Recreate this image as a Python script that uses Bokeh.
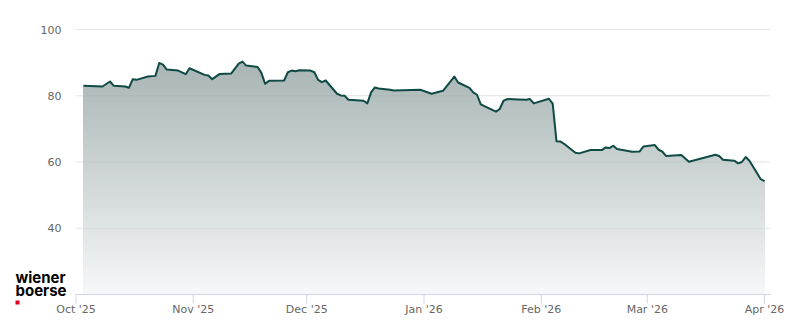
import numpy as np
import pandas as pd
from bokeh.plotting import figure
from bokeh.models import Range1d
from bokeh.core.properties import value
from bokeh.embed import file_html
from bokeh.resources import INLINE

# ---------------- data ----------------
dates = ["2025-10-03", "2025-10-08", "2025-10-10", "2025-10-11", "2025-10-14",
         "2025-10-15", "2025-10-16", "2025-10-17", "2025-10-20", "2025-10-22",
         "2025-10-23", "2025-10-24", "2025-10-25", "2025-10-28", "2025-10-30",
         "2025-10-31", "2025-11-04", "2025-11-05", "2025-11-06", "2025-11-08",
         "2025-11-11", "2025-11-13", "2025-11-14", "2025-11-15", "2025-11-18",
         "2025-11-19", "2025-11-20", "2025-11-21", "2025-11-25", "2025-11-26",
         "2025-11-27", "2025-11-28", "2025-11-29", "2025-12-02", "2025-12-03",
         "2025-12-04", "2025-12-05", "2025-12-06", "2025-12-09", "2025-12-10",
         "2025-12-11", "2025-12-12", "2025-12-16", "2025-12-17", "2025-12-18",
         "2025-12-19", "2025-12-20", "2025-12-23", "2025-12-24", "2025-12-31",
         "2026-01-03", "2026-01-06", "2026-01-09", "2026-01-10", "2026-01-13",
         "2026-01-14", "2026-01-15", "2026-01-16", "2026-01-20", "2026-01-21",
         "2026-01-22", "2026-01-23", "2026-01-26", "2026-01-28", "2026-01-29",
         "2026-01-30", "2026-02-03", "2026-02-04", "2026-02-05", "2026-02-06",
         "2026-02-07", "2026-02-10", "2026-02-11", "2026-02-14", "2026-02-17",
         "2026-02-18", "2026-02-19", "2026-02-20", "2026-02-21", "2026-02-25",
         "2026-02-27", "2026-02-28", "2026-03-03", "2026-03-04", "2026-03-05",
         "2026-03-06", "2026-03-10", "2026-03-12", "2026-03-19", "2026-03-20",
         "2026-03-21", "2026-03-24", "2026-03-25", "2026-03-26", "2026-03-27",
         "2026-03-28", "2026-03-31", "2026-04-01"]

prices = [83.0, 82.8, 84.3, 83.0, 82.8,
          82.4, 85.0, 84.8, 85.8, 86.0,
          89.9, 89.4, 87.9, 87.6, 86.5,
          88.3, 86.3, 86.1, 85.0, 86.6,
          86.7, 89.7, 90.3, 89.1, 88.7,
          86.9, 83.6, 84.5, 84.6, 87.1,
          87.6, 87.4, 87.7, 87.6, 87.1,
          84.8, 84.1, 84.6, 80.6, 80.1,
          80.0, 78.8, 78.5, 77.7, 81.0,
          82.5, 82.2, 81.8, 81.6, 81.8,
          80.6, 81.5, 85.8, 84.0, 82.4,
          81.0, 80.3, 77.4, 75.2, 76.0,
          78.5, 79.0, 78.9, 78.8, 79.0,
          77.7, 79.1, 77.6, 66.3, 66.2,
          65.5, 62.8, 62.6, 63.6, 63.6,
          64.4, 64.2, 64.9, 63.9, 63.1,
          63.2, 64.7, 65.1, 63.7, 63.1,
          61.8, 62.1, 60.1, 62.2, 61.8,
          60.7, 60.4, 59.6, 60.0, 61.5,
          60.4, 54.8, 54.2]

month_ticks = ["2025-10-01", "2025-11-01", "2025-12-01", "2026-01-01",
               "2026-02-01", "2026-03-01", "2026-04-01"]
month_labels = ["Oct '25", "Nov '25", "Dec '25", "Jan '26",
                "Feb '26", "Mar '26", "Apr '26"]
y_ticks = [40, 60, 80, 100]
y_labels = ["40", "60", "80", "100"]
logo_lines = ["wiener", "boerse"]

# ---------------- geometry of the plotting area ----------------
W, H = 800, 324
PL, PR, PT, PB = 75, 30, 29, 30          # plot-area borders in px
Y0, Y1 = 20.0, 100.0                      # value axis range

DAY = 86400000.0
t0 = pd.Timestamp("2025-10-01").value / 1e6
x_start = t0 - 0.13 * DAY
x_end = x_start + 183.7 * DAY
mspp = (x_end - x_start) / (W - PL - PR)   # ms per pixel
upp = (Y1 - Y0) / (H - PT - PB)            # value units per pixel

x = pd.to_datetime(dates)
xms = np.asarray((x - pd.Timestamp("1970-01-01")) // pd.Timedelta(milliseconds=1),
                 dtype=float)
y = np.array(prices, dtype=float)

p = figure(width=W, height=H, output_backend="svg", toolbar_location=None,
           x_axis_location=None, y_axis_location=None,
           x_range=Range1d(x_start - PL * mspp, x_end + PR * mspp),
           y_range=Range1d(Y0 - PB * upp, Y1 + PT * upp))
p.min_border = 0
p.min_border_left = 0
p.min_border_right = 0
p.min_border_top = 0
p.min_border_bottom = 0
p.outline_line_color = None
p.grid.visible = False
p.background_fill_color = "white"
p.border_fill_color = "white"

# horizontal grid lines
p.segment(x0=[x_start] * len(y_ticks), x1=[x_end] * len(y_ticks),
          y0=y_ticks, y1=y_ticks, line_color="#e6e6e6", line_width=1)

# gradient area (stacked opaque bands, top colour first)
top_v = float(y.max())
c_top = np.array([168, 181, 180], dtype=float)
c_bot = np.array([246, 247, 248], dtype=float)
N = 70
edges = np.linspace(Y0, top_v + 0.5, N + 1)
for i in range(N, 0, -1):
    hi = edges[i]
    t = (edges[i - 1] + edges[i]) / 2.0
    f = min(max((t - Y0) / (top_v - Y0), 0.0), 1.0)
    c = c_bot + (c_top - c_bot) * f
    col = "#%02x%02x%02x" % tuple(int(round(v)) for v in c)
    p.varea(x=xms, y1=np.full_like(y, Y0), y2=np.minimum(y, hi),
            fill_color=col, fill_alpha=1.0)

# faint grid showing through the fill
p.segment(x0=[xms[0]] * 3, x1=[xms[-1]] * 3, y0=y_ticks[:3], y1=y_ticks[:3],
          line_color="#000000", line_alpha=0.035, line_width=1)

# price line
p.line(x=xms, y=y, line_color="#0f4a45", line_width=2, line_join="round")

# x axis: line, ticks, labels
xt = np.array([pd.Timestamp(d).value / 1e6 for d in month_ticks])
p.segment(x0=[x_start], x1=[x_end], y0=[Y0], y1=[Y0],
          line_color="#ccd6eb", line_width=1)
p.segment(x0=xt, x1=xt, y0=[Y0] * len(xt), y1=[Y0 - 9 * upp] * len(xt),
          line_color="#ccd6eb", line_width=1)
p.text(x=xt, y=[Y0] * len(xt), text=month_labels, y_offset=15,
       text_align="center", text_baseline="alphabetic",
       text_font=value("DejaVu Sans"), text_font_size="11px",
       text_color="#666666")

# y axis labels
p.text(x=[x_start] * len(y_ticks), y=y_ticks, text=y_labels, x_offset=-14,
       y_offset=0, text_align="right", text_baseline="alphabetic",
       text_font=value("DejaVu Sans"), text_font_size="11px",
       text_color="#666666")

# logo
p.text(x=[x_start] * 2, y=[Y0] * 2, text=logo_lines, x_offset=-60,
       y_offset=[-17.4, -4.4], text_align="left", text_baseline="alphabetic",
       text_font=value("Inter"), text_font_size="15px",
       text_font_style="bold", text_color="#000000")
p.quad(left=[x_start - 60 * mspp], right=[x_start - 56 * mspp],
       top=[Y0 - 6 * upp], bottom=[Y0 - 10 * upp],
       fill_color="#e2001a", line_color=None)

open("out.html", "w").write(file_html(p, INLINE))
